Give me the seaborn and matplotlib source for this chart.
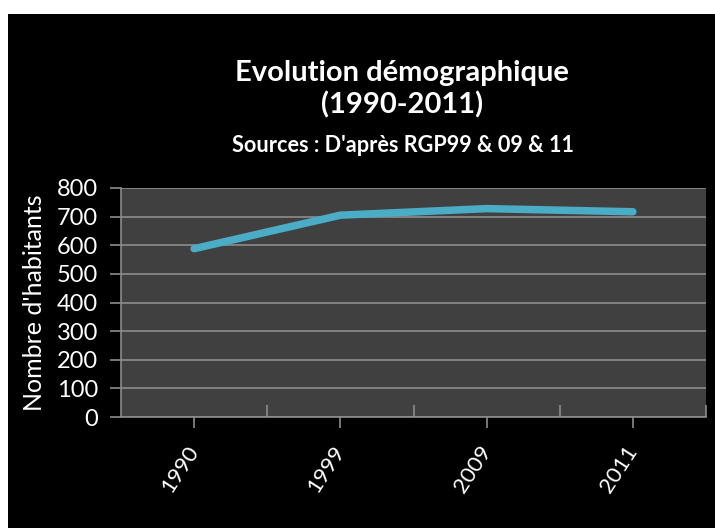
import matplotlib
matplotlib.use("Agg")
import matplotlib.pyplot as plt
from matplotlib.patches import Rectangle
from matplotlib.ticker import FixedLocator
import seaborn as sns
import pandas as pd

years = ["1990", "1999", "2009", "2011"]
habitants = [588, 705, 728, 717]
yticks = [0, 100, 200, 300, 400, 500, 600, 700, 800]

title_line1 = "Evolution démographique"
title_line2 = "(1990-2011)"
subtitle = "Sources : D'après RGP99 & 09 & 11"
ylabel = "Nombre d'habitants"

sns.set_theme(style="dark")
plt.rcParams["font.family"] = ["Lato", "DejaVu Sans"]

W, H = 715, 528
fig = plt.figure(figsize=(W / 100, H / 100), dpi=100, facecolor="white")
fig.patches.append(Rectangle((8 / W, 0), 1 - 8 / W, (H - 14) / H,
                             transform=fig.transFigure, facecolor="black",
                             edgecolor="none", zorder=-10))

ax = fig.add_axes([121 / W, (H - 417) / H, 585 / W, 229 / H])
ax.set_zorder(5)
ax.set_facecolor("#404040")

df = pd.DataFrame({"pos": range(len(years)), "val": habitants})
sns.lineplot(data=df, x="pos", y="val", ax=ax, color="#4BACC6",
             linewidth=5.4, solid_capstyle="round", solid_joinstyle="round")

ax.set_xlim(-0.5, len(years) - 0.5)
ax.set_ylim(0, 800)
ax.set_yticks(yticks)
ax.set_yticklabels([str(v) for v in yticks], color="white", fontsize=17)
ax.set_xticks(range(len(years)))
ax.set_xticklabels(years, color="white", fontsize=16, rotation=57,
                   ha="right", va="center", rotation_mode="anchor")
ax.xaxis.set_minor_locator(FixedLocator([0.5, 1.5, 2.5, 3.5]))

ax.grid(True, axis="y", color="#8c8c8c", linewidth=1.2)
ax.grid(False, axis="x")
for s in ["top", "right"]:
    ax.spines[s].set_visible(False)
for s in ["left", "bottom"]:
    ax.spines[s].set_visible(True)
    ax.spines[s].set_color("#8c8c8c")
    ax.spines[s].set_linewidth(1.2)

ax.tick_params(axis="y", which="major", direction="out", length=8,
               color="#8c8c8c", width=1.2, pad=8.5, left=True)
ax.tick_params(axis="x", which="major", direction="out", length=8,
               color="#8c8c8c", width=1.2, pad=14, bottom=True)
ax.tick_params(axis="x", which="minor", direction="in", length=9,
               color="#8c8c8c", width=1.2, bottom=True)

ax.set_xlabel("")
ax.set_ylabel(ylabel, color="white", fontsize=18, labelpad=8)

fig.text(402 / W, 1 - 73 / H, title_line1, color="white", fontsize=21,
         fontweight="bold", ha="center", va="center")
fig.text(402 / W, 1 - 105 / H, title_line2, color="white", fontsize=21,
         fontweight="bold", ha="center", va="center")
fig.text(403 / W, 1 - 145 / H, subtitle, color="white", fontsize=15.6,
         fontweight="bold", ha="center", va="center")

fig.savefig("out.png", dpi=100, facecolor="white")
